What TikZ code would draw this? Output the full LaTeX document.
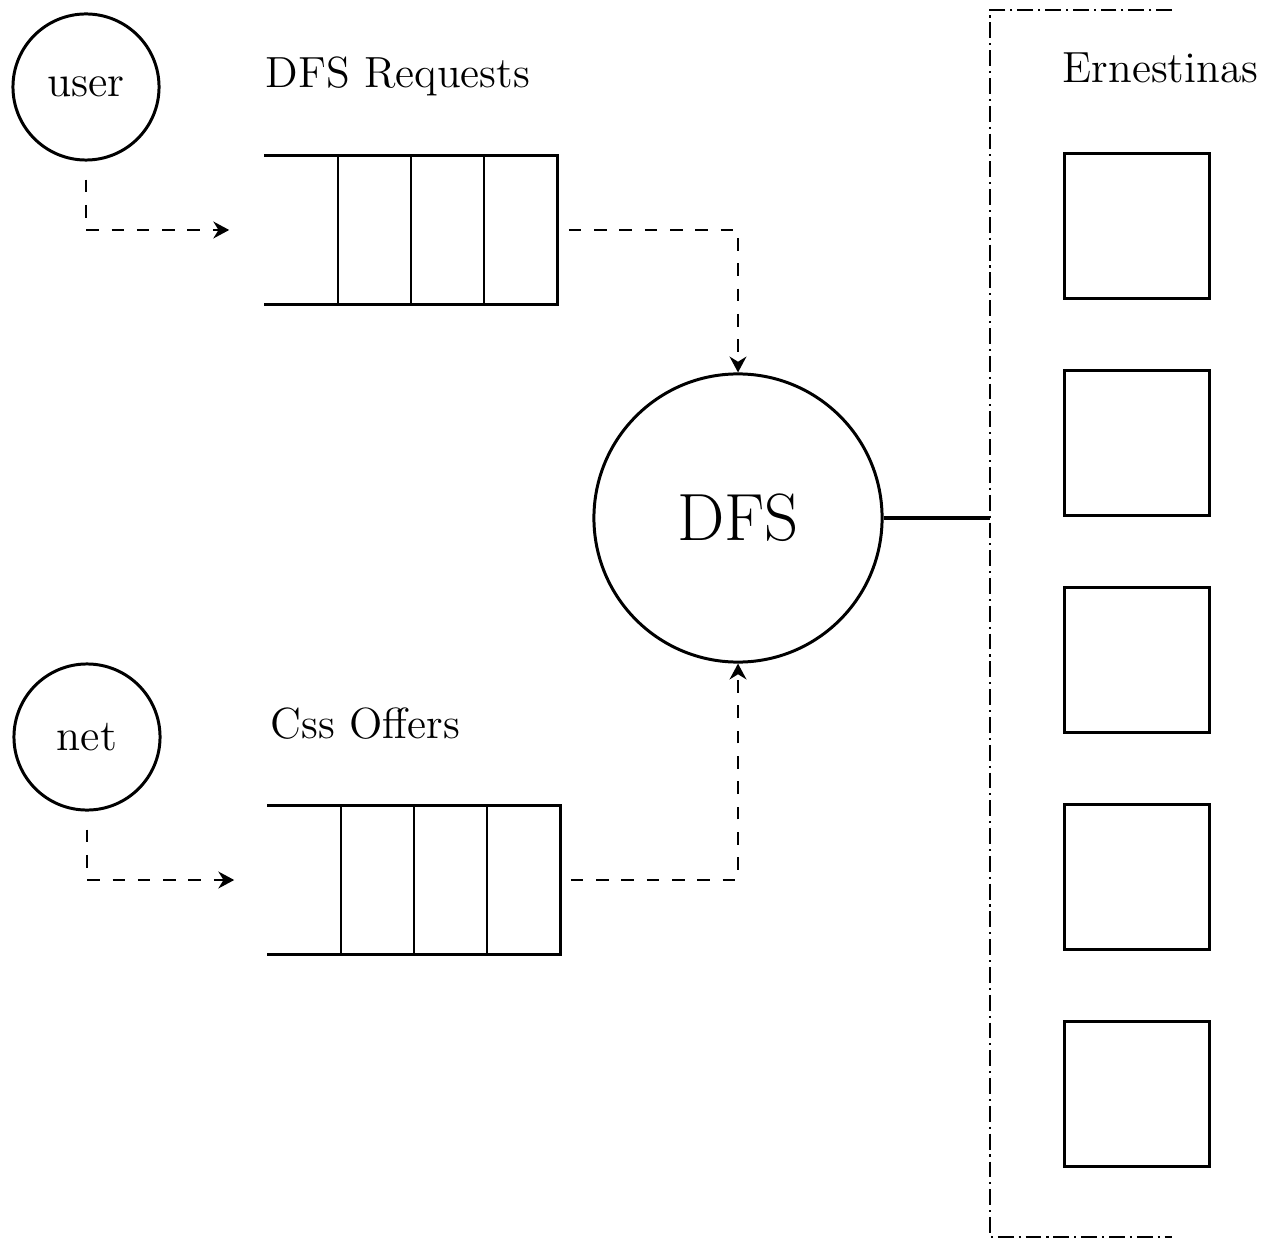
\documentclass[tikz,border=0pt]{standalone}
\usetikzlibrary{arrows.meta,calc}

\begin{document}
\begin{tikzpicture}[
  x=0.01cm, y=-0.01cm,
  >={Stealth[length=4.5pt,width=4.8pt]},
  agent/.style={circle, draw, line width=.85pt, minimum size=1.46cm, inner sep=0pt, font=\fontsize{12.6}{15}\selectfont},
  server/.style={circle, draw, line width=.85pt, minimum size=2.88cm, inner sep=0pt, font=\fontsize{19}{23}\selectfont},
  queue/.style={rectangle, draw=none, minimum width=2.92cm, minimum height=1.47cm, inner sep=0pt},
  ernbox/.style={rectangle, draw, line width=.9pt, minimum size=1.45cm, inner sep=0pt},
  caption/.style={anchor=base west, inner sep=0pt, font=\fontsize{12.4}{15}\selectfont},
  flow/.style={->, line width=.6pt, dash pattern=on 3.6pt off 3.6pt},
  frame/.style={line width=.6pt, dash pattern=on 4.5pt off 1.4pt on .6pt off 1.4pt},
]
\useasboundingbox (0,0) rectangle (1277,1240);

% ---------- sources ----------
\node[agent] (user) at (86,87)  {user};
\node[agent] (net)  at (87,737) {net};

% ---------- queues ----------
\node[caption] (reqlabel) at (265,88)  {DFS Requests};
\node[caption] (offlabel) at (270,738) {Css Offers};

\node[queue] (req) at (411,230) {};
\node[queue] (off) at (414,880) {};
\foreach \q in {req, off} {
  \draw[line width=.85pt] (\q.north west) -- (\q.north east) -- (\q.south east) -- (\q.south west);
  \foreach \f in {0.25, 0.5, 0.75}
    \draw[line width=.6pt] ($(\q.north west)!\f!(\q.north east)$) -- ($(\q.south west)!\f!(\q.south east)$);
}

\draw[flow, shorten <=0.18cm, shorten >=0.35cm] (user.south) |- (req.west);
\draw[flow, shorten <=0.18cm, shorten >=0.33cm] (net.south)  |- (off.west);

% ---------- DFS ----------
\node[server] (dfs) at (738,518) {DFS};

\draw[flow, shorten <=0.11cm] (req.east) -| (dfs.north);
\draw[flow, shorten <=0.10cm] (off.east) -| (dfs.south);

% ---------- Ernestinas ----------
\coordinate (ftop) at (1172,10);
\coordinate (fbot) at (1172,1237);
\coordinate (bus)  at (990,518);
\draw[frame] (ftop) -- (bus |- ftop) -- (bus |- fbot) -- (fbot);
\draw[line width=1.4pt] (dfs.east) -- (bus);

\node[caption] (ernlabel) at (1062,83) {Ernestinas};
\foreach \i in {1,...,5}
  \node[ernbox] (ern\i) at (1137, 226+217*\i-217) {};

\end{tikzpicture}
\end{document}
